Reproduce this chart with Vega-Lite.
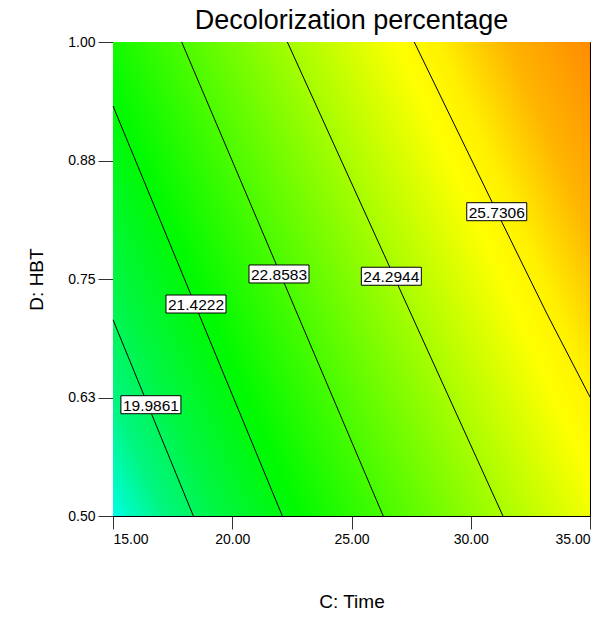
{
  "$schema": "https://vega.github.io/schema/vega-lite/v6.json",
  "width": 477,
  "height": 474,
  "autosize": {"type": "none"},
  "padding": {"left": 113, "top": 42, "right": 15, "bottom": 102},
  "background": "white",
  "title": {
    "text": "Decolorization percentage",
    "font": "Liberation Sans",
    "fontSize": 27,
    "fontWeight": "normal",
    "color": "#000000",
    "anchor": "middle",
    "baseline": "alphabetic",
    "offset": -21
  },
  "config": {
    "view": {"stroke": "#000000", "strokeWidth": 1},
    "axis": {
      "labelFont": "Liberation Sans Narrow, Liberation Sans, sans-serif",
      "labelFontSize": 14,
      "labelColor": "#000000",
      "domainColor": "#000000",
      "tickColor": "#333333",
      "titleFont": "Liberation Sans",
      "titleFontSize": 19,
      "titleFontWeight": "normal",
      "titleColor": "#000000",
      "grid": false
    }
  },
  "datasets": {
    "bg": [{"c": 15, "c2": 35, "d": 0.5, "d2": 1.0}],
    "lines": [
      {"level": "19.9861", "ord": 0, "c": 15.0, "d": 0.707},
      {"level": "19.9861", "ord": 1, "c": 18.37, "d": 0.5},
      {"level": "21.4222", "ord": 0, "c": 15.0, "d": 0.9325},
      {"level": "21.4222", "ord": 1, "c": 22.10, "d": 0.5},
      {"level": "22.8583", "ord": 0, "c": 17.88, "d": 1.0},
      {"level": "22.8583", "ord": 1, "c": 26.33, "d": 0.5},
      {"level": "24.2944", "ord": 0, "c": 22.31, "d": 1.0},
      {"level": "24.2944", "ord": 1, "c": 31.35, "d": 0.5},
      {"level": "25.7306", "ord": 0, "c": 27.63, "d": 1.0},
      {"level": "25.7306", "ord": 1, "c": 31.09, "d": 0.821},
      {"level": "25.7306", "ord": 2, "c": 33.18, "d": 0.714},
      {"level": "25.7306", "ord": 3, "c": 35.0, "d": 0.6255}
    ],
    "labels": [
      {"text": "19.9861", "c": 16.59, "d": 0.6174},
      {"text": "21.4222", "c": 18.48, "d": 0.7236},
      {"text": "22.8583", "c": 21.96, "d": 0.7553},
      {"text": "24.2944", "c": 26.67, "d": 0.7529},
      {"text": "25.7306", "c": 31.09, "d": 0.821}
    ]
  },
  "encoding": {
    "x": {
      "field": "c",
      "type": "quantitative",
      "scale": {"domain": [15, 35], "nice": false, "zero": false},
      "axis": {
        "title": "C: Time",
        "values": [15, 20, 25, 30, 35],
        "format": ".2f",
        "tickSize": 13,
        "labelPadding": 3,
        "titlePadding": 46
      }
    },
    "y": {
      "field": "d",
      "type": "quantitative",
      "scale": {"domain": [0.5, 1.0], "nice": false, "zero": false},
      "axis": {
        "title": "D: HBT",
        "values": [0.5, 0.625, 0.75, 0.875, 1.0],
        "format": ".2f",
        "tickSize": 15,
        "labelPadding": 3,
        "titlePadding": 21
      }
    }
  },
  "layer": [
    {
      "data": {"name": "bg"},
      "mark": {
        "type": "rect",
        "fill": {
          "gradient": "linear",
          "x1": -0.103,
          "y1": 0.765,
          "x2": 1.103,
          "y2": 0.235,
          "stops": [
            {"offset": 0, "color": "#00FFE8"},
            {"offset": 0.025, "color": "#00FAC0"},
            {"offset": 0.075, "color": "#00F680"},
            {"offset": 0.15, "color": "#00F645"},
            {"offset": 0.27, "color": "#00FA00"},
            {"offset": 0.72, "color": "#FFFF00"},
            {"offset": 0.78, "color": "#FFF000"},
            {"offset": 0.88, "color": "#FFB400"},
            {"offset": 1, "color": "#FF8C00"}
          ]
        }
      },
      "encoding": {
        "x2": {"field": "c2"},
        "y2": {"field": "d2"}
      }
    },
    {
      "data": {"name": "lines"},
      "mark": {"type": "line", "stroke": "#000000", "strokeWidth": 1},
      "encoding": {
        "detail": {"field": "level"},
        "order": {"field": "ord"}
      }
    },
    {
      "data": {"name": "labels"},
      "mark": {
        "type": "point",
        "shape": "M-1,-0.3L1,-0.3L1,0.3L-1,0.3Z",
        "size": 3600,
        "filled": true,
        "fill": "#FFFFFF",
        "stroke": "#000000",
        "strokeWidth": 1,
        "opacity": 1
      }
    },
    {
      "data": {"name": "labels"},
      "mark": {
        "type": "text",
        "font": "Liberation Sans",
        "fontSize": 15.5,
        "color": "#000000",
        "baseline": "middle",
        "align": "center",
        "dy": 1
      },
      "encoding": {"text": {"field": "text"}}
    }
  ]
}
